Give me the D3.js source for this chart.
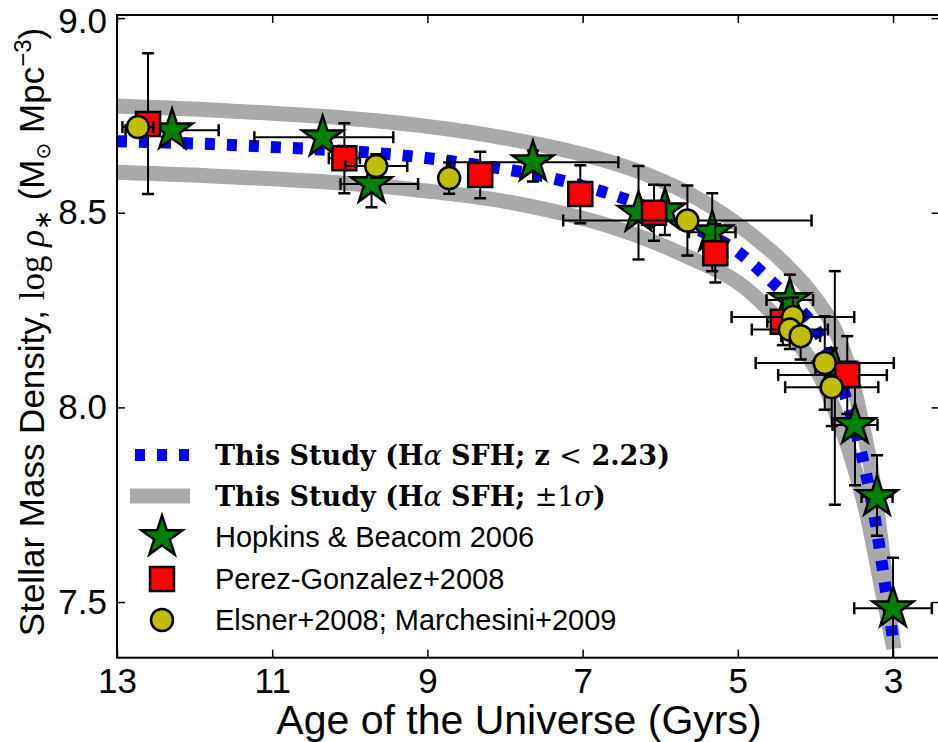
<!DOCTYPE html>
<html>
<head>
<meta charset="utf-8">
<script src="https://cdn.jsdelivr.net/npm/d3@7"></script>
<style>
  body { margin: 0; background: #fff; }
  text { fill: #000; }
</style>
</head>
<body>
<svg id="chart" width="938" height="742"></svg>
<script>
// ---- dati ----
// curva migliore (eta' in Gyr, log rho)
const fitAge = [13.0, 12.0, 11.0, 10.0, 9.4, 8.5, 7.4, 6.35, 5.6, 5.0, 4.6, 4.3, 4.0, 3.8, 3.6, 3.4, 3.23, 3.10, 3.0];
const fitRho = [8.684, 8.678, 8.669, 8.658, 8.649, 8.627, 8.589, 8.528, 8.465, 8.40, 8.33, 8.272, 8.203, 8.128, 8.02, 7.875, 7.71, 7.54, 7.405];

// banda +1 sigma
const upperAge = [13.0, 11.5, 10.0, 9.0, 8.0, 7.0, 6.2, 5.5, 4.9, 4.4, 4.0, 3.75, 3.55, 3.40, 3.28, 3.15, 3.05, 2.99];
const upperRho = [8.774, 8.761, 8.742, 8.722, 8.692, 8.650, 8.600, 8.535, 8.455, 8.37, 8.28, 8.20, 8.09, 7.96, 7.84, 7.65, 7.48, 7.38];

// banda -1 sigma
const lowerAge = [13.0, 11.5, 9.48, 7.68, 6.61, 5.745, 4.84, 4.33, 3.94, 3.68, 3.49, 3.32, 3.17, 3.04, 3.0];
const lowerRho = [8.604, 8.592, 8.566, 8.517, 8.463, 8.396, 8.296, 8.19, 8.08, 7.955, 7.84, 7.71, 7.56, 7.43, 7.39];

// punti: [eta', log rho, err eta' (piu' vecchio), err eta' (piu' giovane), err su, err giu']
const hopkins = [
  [12.29, 8.712, 0.6, 0.6, 0, 0],
  [10.35, 8.694, 0.88, 0.91, 0, 0],
  [9.72, 8.574, 0.4, 0.6, 0.06, 0.06],
  [7.64, 8.630, 1.1, 1.1, 0.03, 0.05],
  [6.28, 8.500, 0, 0, 0.12, 0.12],
  [5.94, 8.507, 0, 0, 0.064, 0.064],
  [5.33, 8.450, 0.3, 0.3, 0.1, 0.1],
  [4.33, 8.276, 0.3, 0.3, 0.065, 0.065],
  [3.75, 8.100, 0.25, 0.25, 0.25, 0.35],
  [3.49, 7.955, 0.29, 0.29, 0.1, 0.155],
  [3.206, 7.770, 0.2, 0.2, 0.107, 0.10],
  [3.0, 7.484, 0.5, 0.5, 0.13, 0.13]
];

const perez = [
  [12.60, 8.728, 0.1, 0.1, 0.182, 0.18],
  [10.07, 8.640, 0.2, 0.2, 0.09, 0.09],
  [8.32, 8.597, 0.15, 0.15, 0.06, 0.06],
  [7.03, 8.548, 0.15, 0.15, 0.074, 0.075],
  [6.08, 8.500, 0.15, 0.15, 0.072, 0.072],
  [5.29, 8.396, 0.15, 0.15, 0.075, 0.075],
  [4.42, 8.220, 0.2, 0.2, 0.06, 0.06],
  [3.59, 8.083, 0.89, 0.51, 0.1, 0.1]
];

const elsner = [
  [12.73, 8.720, 0.2, 0.2, 0, 0],
  [9.66, 8.620, 0.4, 0.4, 0.03, 0.03],
  [8.72, 8.589, 0.1, 0.1, 0.04, 0.04],
  [5.65, 8.480, 1.6, 1.6, 0.09, 0.09],
  [4.29, 8.232, 0.79, 0.79, 0.05, 0.05],
  [4.33, 8.200, 0.49, 0.49, 0.05, 0.05],
  [4.19, 8.183, 0.25, 0.25, 0.06, 0.06],
  [3.88, 8.114, 0.89, 0.89, 0.12, 0.12],
  [3.79, 8.052, 0.6, 0.6, 0.1, 0.1]
];

const xTicks = [13, 11, 9, 7, 5, 3];
const yTicks = [7.5, 8.0, 8.5, 9.0];

// ---- disegno ----
const svg = d3.select("#chart");
const padL = 117, padR = 939.6, padT = 15, padB = 657.7;

const x = d3.scaleLinear().domain([13, 2.4]).range([padL, padR]);
const y = d3.scaleLinear().domain([7.357, 9.008]).range([padB, padT]);

svg.append("defs").append("clipPath").attr("id", "plotClip")
  .append("rect").attr("x", padL).attr("y", padT)
  .attr("width", padR - padL).attr("height", padB - padT);

const plot = svg.append("g").attr("clip-path", "url(#plotClip)");

const line = d3.line()
  .x(d => x(d[0])).y(d => y(d[1]))
  .curve(d3.curveMonotoneX);

const zip = (a, b) => a.map((v, i) => [v, b[i]]);

[zip(upperAge, upperRho), zip(lowerAge, lowerRho)].forEach(pts => {
  plot.append("path").attr("d", line(pts))
    .attr("fill", "none").attr("stroke", "#a9a9a9")
    .attr("stroke-width", 15).attr("stroke-linejoin", "round");
});

plot.append("path").attr("d", line(zip(fitAge, fitRho)))
  .attr("fill", "none").attr("stroke", "#0000ff")
  .attr("stroke-width", 12).attr("stroke-dasharray", "10,12");

function drawSeries(data, symbol, size, color) {
  const g = plot.append("g");
  const cap = 6;
  data.forEach(d => {
    const cx = x(d[0]), cy = y(d[1]);
    const eb = g.append("g").attr("stroke", "#000").attr("stroke-width", 2);
    if (d[2] || d[3]) {
      const x0 = x(d[0] + d[2]), x1 = x(d[0] - d[3]);
      eb.append("line").attr("x1", x0).attr("x2", x1).attr("y1", cy).attr("y2", cy);
      [x0, x1].forEach(xx => eb.append("line").attr("x1", xx).attr("x2", xx)
        .attr("y1", cy - cap).attr("y2", cy + cap).attr("stroke-width", 2.5));
    }
    if (d[4] || d[5]) {
      const y0 = y(d[1] + d[4]), y1 = y(d[1] - d[5]);
      eb.append("line").attr("x1", cx).attr("x2", cx).attr("y1", y0).attr("y2", y1);
      [y0, y1].forEach(yy => eb.append("line").attr("y1", yy).attr("y2", yy)
        .attr("x1", cx - cap).attr("x2", cx + cap).attr("stroke-width", 2.5));
    }
  });
  g.selectAll("path.mk").data(data).join("path")
    .attr("class", "mk")
    .attr("d", d3.symbol().type(symbol).size(size))
    .attr("transform", d => `translate(${x(d[0])},${y(d[1])})`)
    .attr("fill", color).attr("stroke", "#000")
    .attr("stroke-width", 2.5).attr("stroke-linejoin", "miter");
}

drawSeries(hopkins, d3.symbolStar, 520, "#008000");
drawSeries(perez, d3.symbolSquare, 576, "#ff0000");
drawSeries(elsner, d3.symbolCircle, 380, "#bfbf00");

// assi
const axes = svg.append("g");
const tickFont = "Liberation Sans, Arial, sans-serif";

const xb = axes.append("g").attr("transform", `translate(0,${padB})`)
  .call(d3.axisBottom(x).tickValues(xTicks).tickFormat(d3.format("d"))
    .tickSizeInner(-8).tickSizeOuter(0).tickPadding(10));
const xt = axes.append("g").attr("transform", `translate(0,${padT})`)
  .call(d3.axisTop(x).tickValues(xTicks).tickFormat("")
    .tickSizeInner(-8).tickSizeOuter(0));
const yl = axes.append("g").attr("transform", `translate(${padL},0)`)
  .call(d3.axisLeft(y).tickValues(yTicks).tickFormat(d3.format(".1f"))
    .tickSizeInner(-8).tickSizeOuter(0).tickPadding(10));
const yr = axes.append("g").attr("transform", `translate(${padR},0)`)
  .call(d3.axisRight(y).tickValues(yTicks).tickFormat("")
    .tickSizeInner(-8).tickSizeOuter(0));

[xb, xt, yl, yr].forEach(a => {
  a.select(".domain").remove();
  a.selectAll(".tick line").attr("stroke", "#000").attr("stroke-width", 1.5);
  a.selectAll(".tick text").attr("font-family", tickFont).attr("font-size", 35).attr("fill", "#000");
});
// "9.0" un poco piu' in basso, come nell'originale
yl.selectAll(".tick text").filter(d => d === 9.0).attr("dy", "0.42em");

axes.append("rect").attr("x", padL).attr("y", padT)
  .attr("width", padR - padL).attr("height", padB - padT)
  .attr("fill", "none").attr("stroke", "#000").attr("stroke-width", 2);

// etichette assi
svg.append("text")
  .attr("x", 519).attr("y", 734)
  .attr("text-anchor", "middle")
  .attr("font-family", tickFont).attr("font-size", 41)
  .text("Age of the Universe (Gyrs)");

const ylab = svg.append("text")
  .attr("transform", "translate(44,332) rotate(-90)")
  .attr("text-anchor", "middle")
  .attr("font-family", tickFont).attr("font-size", 35);
ylab.append("tspan").text("Stellar Mass Density, ");
ylab.append("tspan").attr("font-family", "Liberation Serif, serif").text("log ");
ylab.append("tspan").attr("font-family", "Liberation Serif, serif").attr("font-style", "italic").text("ρ");
ylab.append("tspan").attr("font-family", "Liberation Serif, serif").attr("font-size", 24).attr("dy", 7).text("∗");
ylab.append("tspan").attr("dy", -7).text(" (M");
ylab.append("tspan").attr("font-family", "DejaVu Sans, sans-serif").attr("font-size", 20).attr("dy", 6).text("⊙");
ylab.append("tspan").attr("dy", -6).text(" Mpc");
ylab.append("tspan").attr("font-size", 24).attr("dy", -13).text("−3");
ylab.append("tspan").attr("dy", 13).text(")");

// legenda
const leg = svg.append("g");
const legX = 215;
const rows = [455, 496, 537, 579, 620];

leg.append("line").attr("x1", 135).attr("x2", 189).attr("y1", rows[0]).attr("y2", rows[0])
  .attr("stroke", "#0000ff").attr("stroke-width", 12).attr("stroke-dasharray", "10,12");
leg.append("line").attr("x1", 130).attr("x2", 190).attr("y1", rows[1]).attr("y2", rows[1])
  .attr("stroke", "#a9a9a9").attr("stroke-width", 15);

[[d3.symbolStar, 520, "#008000"], [d3.symbolSquare, 576, "#ff0000"], [d3.symbolCircle, 380, "#bfbf00"]]
  .forEach((m, i) => {
    leg.append("path").attr("d", d3.symbol().type(m[0]).size(m[1]))
      .attr("transform", `translate(162,${rows[i + 2]})`)
      .attr("fill", m[2]).attr("stroke", "#000").attr("stroke-width", 2.5);
  });

const serifB = "DejaVu Serif, serif";
const t1 = leg.append("text").attr("x", legX).attr("y", rows[0] + 10)
  .attr("font-family", serifB).attr("font-weight", "bold").attr("font-size", 27);
t1.append("tspan").text("This Study (H");
t1.append("tspan").attr("font-weight", "normal").attr("font-style", "italic").text("α");
t1.append("tspan").text(" SFH; z ");
t1.append("tspan").attr("font-weight", "normal").text("<");
t1.append("tspan").text(" 2.23)");

const t2 = leg.append("text").attr("x", legX).attr("y", rows[1] + 10)
  .attr("font-family", serifB).attr("font-weight", "bold").attr("font-size", 27);
t2.append("tspan").text("This Study (H");
t2.append("tspan").attr("font-weight", "normal").attr("font-style", "italic").text("α");
t2.append("tspan").text(" SFH; ");
t2.append("tspan").attr("font-weight", "normal").text("±1");
t2.append("tspan").attr("font-weight", "normal").attr("font-style", "italic").text("σ");
t2.append("tspan").text(")");

["Hopkins & Beacom 2006", "Perez-Gonzalez+2008", "Elsner+2008; Marchesini+2009"].forEach((s, i) => {
  leg.append("text").attr("x", legX).attr("y", rows[i + 2] + 10)
    .attr("font-family", tickFont).attr("font-size", 29).text(s);
});
</script>
</body>
</html>
